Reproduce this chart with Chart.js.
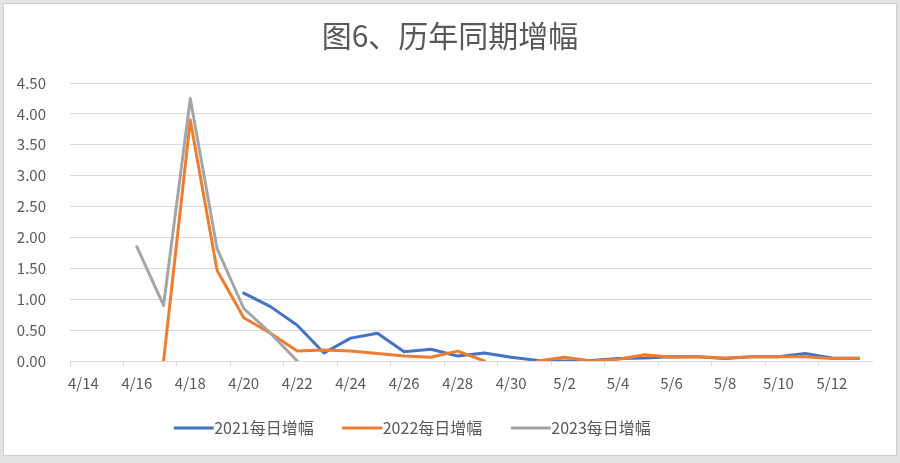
<!DOCTYPE html>
<html>
<head>
<meta charset="utf-8">
<script src="https://cdn.jsdelivr.net/npm/chart.js@4/dist/chart.umd.min.js"></script>
<style>
    html, body { margin: 0; padding: 0; background: #e3e3e3; }
    #wrap { position: absolute; left: 0; top: 0; width: 900px; height: 463px; }
</style>
</head>
<body>
<div id="wrap"><canvas id="chart"></canvas></div>
<script>
const labels = [
    '4/14', '4/15', '4/16', '4/17', '4/18', '4/19', '4/20', '4/21', '4/22', '4/23',
    '4/24', '4/25', '4/26', '4/27', '4/28', '4/29', '4/30', '5/1', '5/2', '5/3',
    '5/4', '5/5', '5/6', '5/7', '5/8', '5/9', '5/10', '5/11', '5/12', '5/13'
];

const growth2021 = [
    null, null, null, null, null, null, 1.10, 0.88, 0.58, 0.13,
    0.37, 0.45, 0.15, 0.19, 0.08, 0.13, 0.06, 0.01, 0.00, 0.01,
    0.04, 0.05, 0.07, 0.07, 0.04, 0.07, 0.07, 0.12, 0.05, 0.04
];

const growth2022 = [
    null, null, null, 0.00, 3.90, 1.47, 0.70, 0.45, 0.16, 0.18,
    0.16, 0.12, 0.08, 0.06, 0.16, 0.00, null, 0.00, 0.06, 0.00,
    0.03, 0.10, 0.06, 0.07, 0.05, 0.07, 0.07, 0.07, 0.04, 0.05
];

const growth2023 = [
    null, null, 1.85, 0.90, 4.25, 1.82, 0.85, 0.45, 0.00, null,
    null, null, null, null, null, null, null, null, null, null,
    null, null, null, null, null, null, null, null, null, null
];

const yTicks = [0, 0.5, 1, 1.5, 2, 2.5, 3, 3.5, 4, 4.5];

const fontFamily = '"Noto Sans CJK SC", "Noto Sans", sans-serif';
const textColor = '#595959';
const gridColor = '#d9d9d9';

// белая рамка вокруг графика, как в исходной картинке
const framePlugin = {
    id: 'frame',
    beforeDraw(chart) {
        const ctx = chart.ctx;
        ctx.save();
        ctx.fillStyle = '#e3e3e3';
        ctx.fillRect(0, 0, chart.width, chart.height);
        ctx.fillStyle = '#ffffff';
        ctx.fillRect(3, 3, chart.width - 6, chart.height - 10);
        ctx.strokeStyle = '#cfcfcf';
        ctx.lineWidth = 1;
        ctx.strokeRect(3.5, 3.5, chart.width - 7, chart.height - 11);
        ctx.restore();
    }
};

// Заголовок по центру всей картинки, легенда чуть левее центра
const shiftPlugin = {
    id: 'shift',
    afterLayout(chart) {
        if (chart.titleBlock) {
            chart.titleBlock.right += 28;
        }
        if (chart.legend) {
            chart.legend.right -= 48;
        }
    }
};

// Значок легенды: линия 40px, почти вплотную к тексту
// (ширина значка 33px, картинка 80px центрируется на нём)
function legendLine(color) {
    const c = document.createElement('canvas');
    c.width = 80;
    c.height = 6;
    const ctx = c.getContext('2d');
    ctx.strokeStyle = color;
    ctx.lineWidth = 3;
    ctx.beginPath();
    ctx.moveTo(24, 3);
    ctx.lineTo(64, 3);
    ctx.stroke();
    return c;
}

function makeLine(label, data, color) {
    return {
        label: label,
        data: data,
        borderColor: color,
        backgroundColor: color,
        borderWidth: 3,
        pointRadius: 0,
        pointHoverRadius: 0,
        pointStyle: legendLine(color),
        tension: 0,
        spanGaps: false,
        borderJoinStyle: 'round',
        borderCapStyle: 'round'
    };
}

const chart = new Chart(document.getElementById('chart'), {
    type: 'line',
    data: {
        labels: labels,
        // серый рисуется поверх остальных, поэтому идёт первым
        datasets: [
            makeLine('2023每日增幅', growth2023, '#a5a5a5'),
            makeLine('2022每日增幅', growth2022, '#ed7d31'),
            makeLine('2021每日增幅', growth2021, '#4472c4')
        ]
    },
    plugins: [framePlugin, shiftPlugin],
    options: {
        responsive: true,
        maintainAspectRatio: false,
        animation: false,
        layout: {
            padding: { left: 0, right: 28, top: 0, bottom: 17 }
        },
        scales: {
            x: {
                offset: true,
                grid: {
                    offset: true,
                    drawOnChartArea: false,
                    drawTicks: true,
                    tickLength: 5,
                    color: (ctx) => ctx.index % 2 === 0 ? gridColor : 'rgba(0,0,0,0)'
                },
                border: { display: true, color: gridColor, width: 1 },
                ticks: {
                    autoSkip: false,
                    maxRotation: 0,
                    padding: 8,
                    color: textColor,
                    font: { family: fontFamily, size: 15 },
                    callback: function (value, index) {
                        return index % 2 === 0 ? this.getLabelForValue(value) : '';
                    }
                },
                afterFit: (scale) => { scale.height = 31; }
            },
            y: {
                min: 0,
                max: 4.5,
                afterBuildTicks: (scale) => {
                    scale.ticks = yTicks.map(v => ({ value: v }));
                },
                grid: { color: gridColor, drawTicks: false },
                border: { display: false },
                ticks: {
                    padding: 24,
                    color: textColor,
                    font: { family: fontFamily, size: 15 },
                    callback: (value) => Number(value).toFixed(2)
                },
                afterFit: (scale) => { scale.width = 70; }
            }
        },
        plugins: {
            title: {
                display: true,
                text: '图6、历年同期增幅',
                color: textColor,
                font: { family: fontFamily, size: 30, weight: 'normal' },
                padding: { top: 18, bottom: 29 }
            },
            legend: {
                display: true,
                position: 'bottom',
                reverse: true,
                labels: {
                    usePointStyle: true,
                    pointStyleWidth: 33,
                    boxHeight: 16,
                    padding: 28,
                    color: textColor,
                    font: { family: fontFamily, size: 16 }
                }
            },
            tooltip: { enabled: false }
        }
    }
});
</script>
</body>
</html>
